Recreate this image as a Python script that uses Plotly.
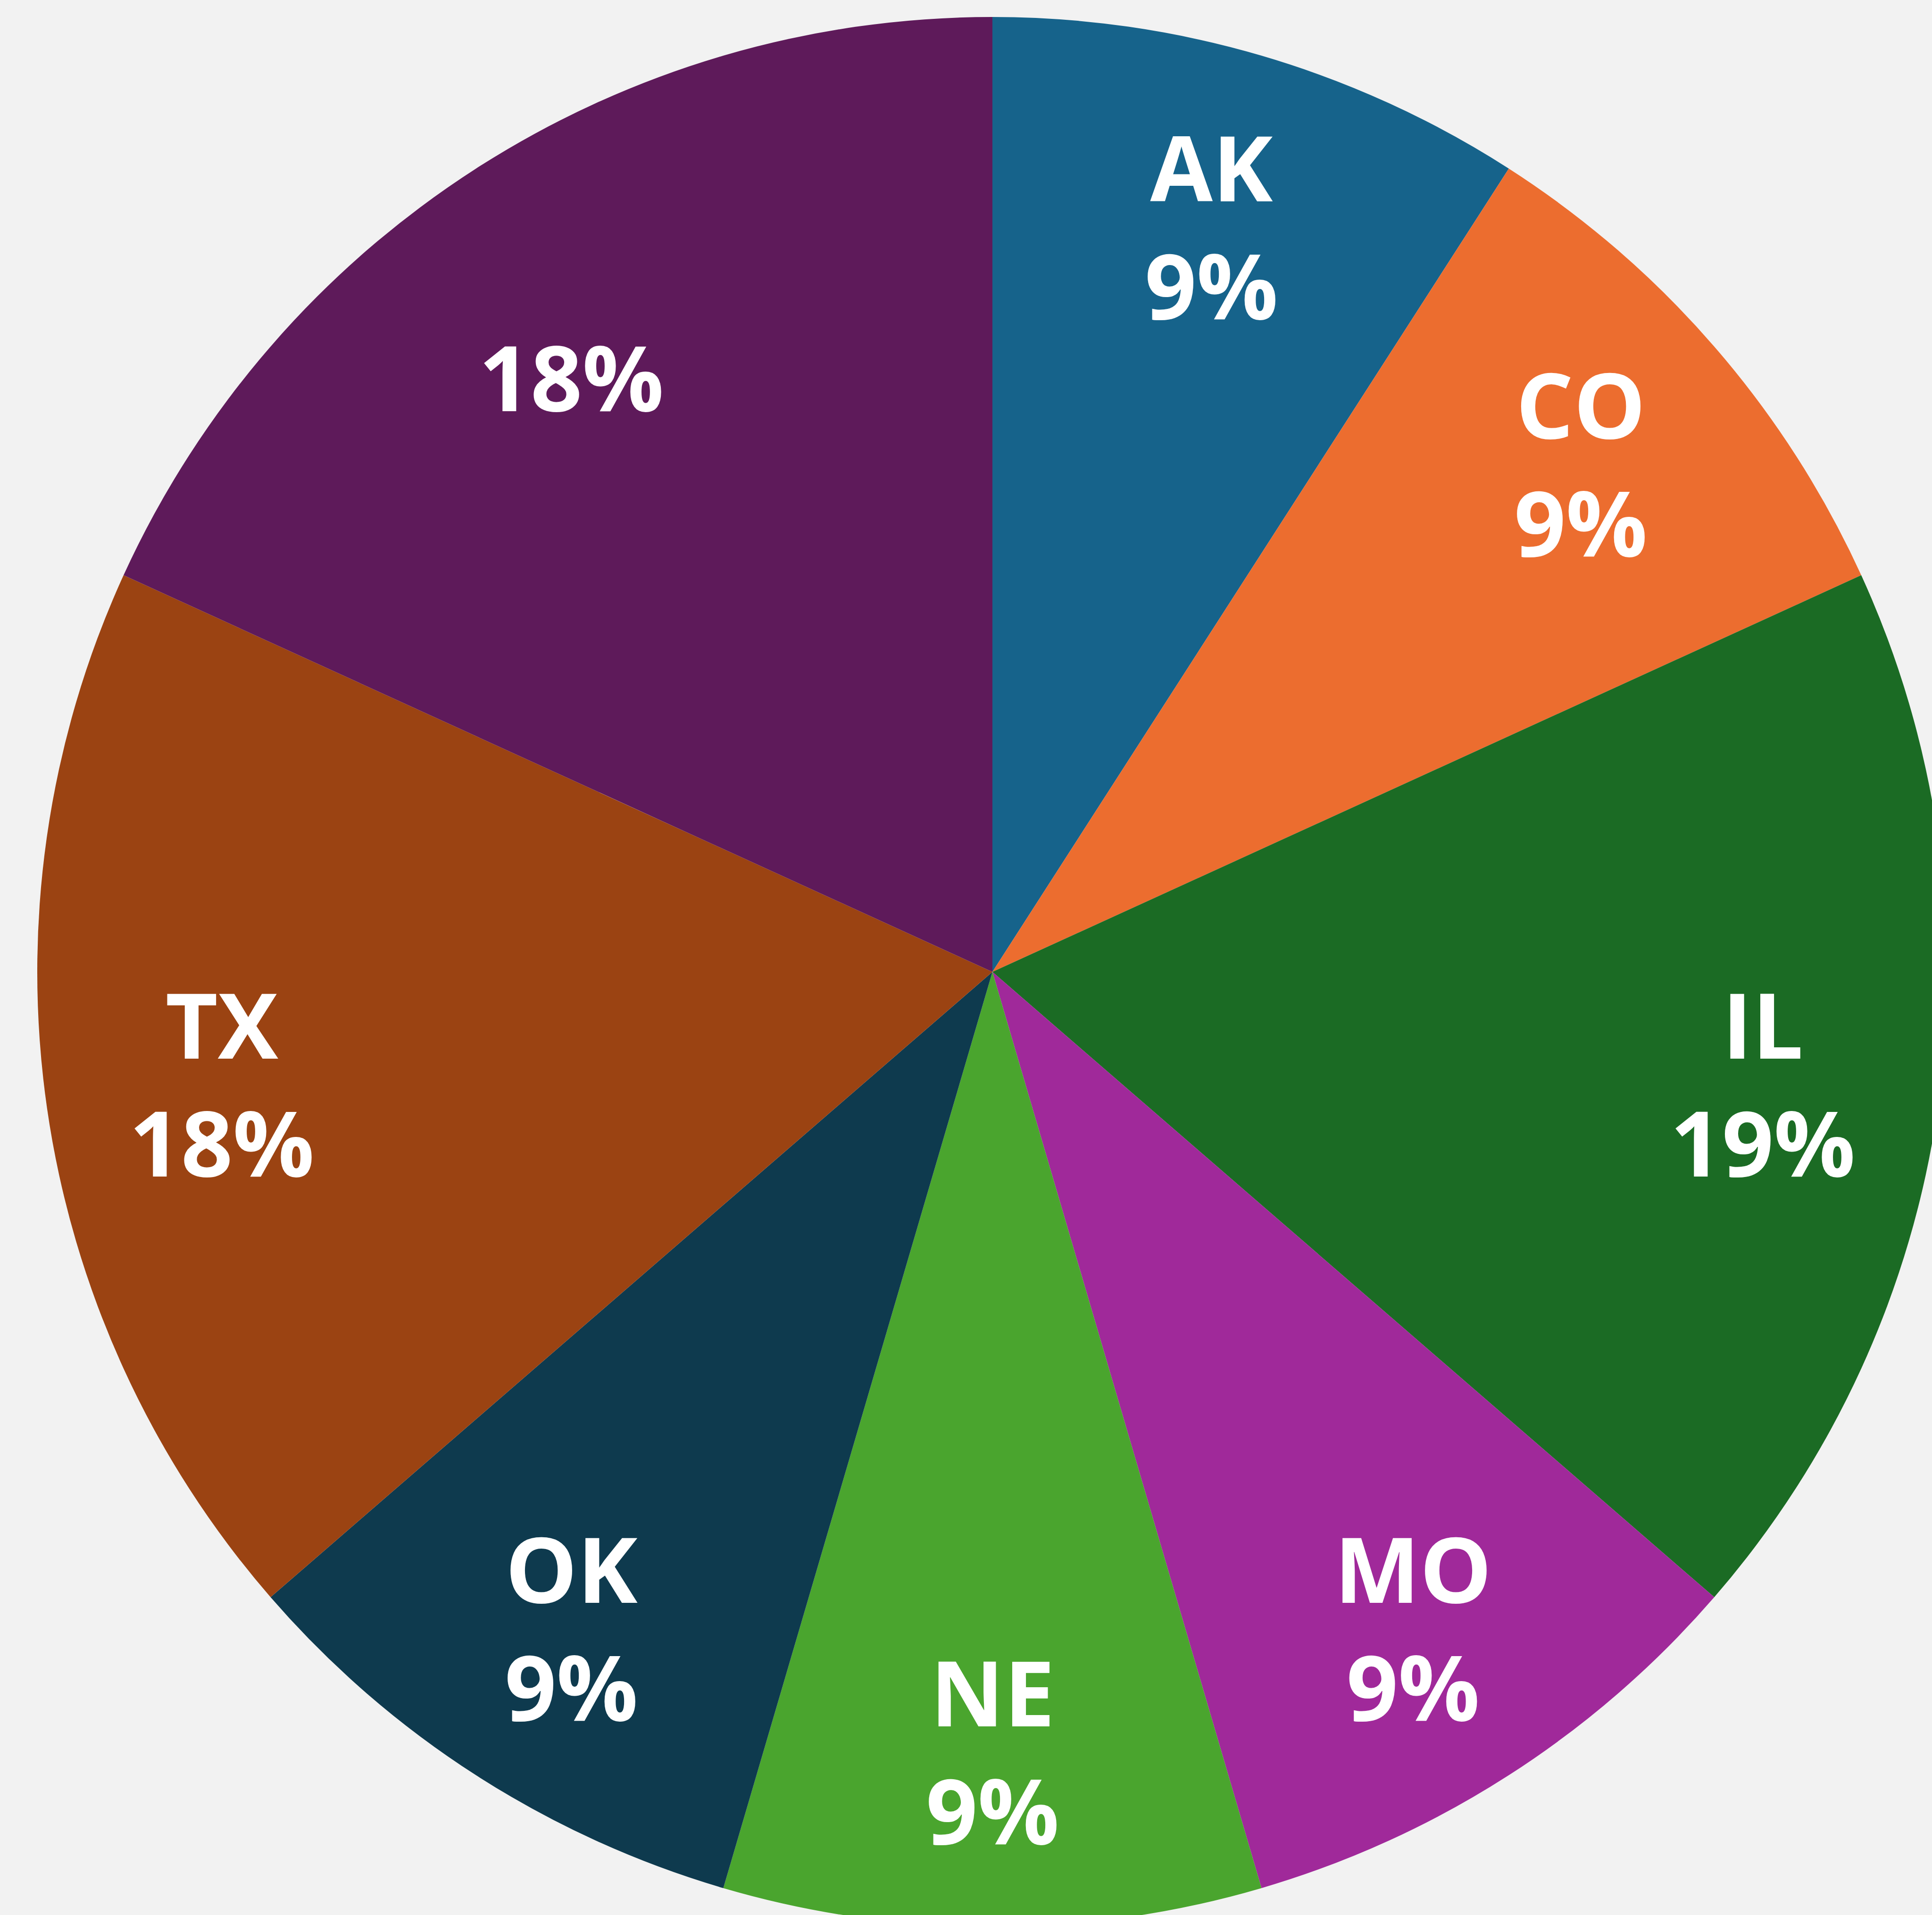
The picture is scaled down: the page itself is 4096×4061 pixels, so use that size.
import math
import plotly.graph_objects as go

# Data
states = ["AK", "CO", "IL", "MO", "NE", "OK", "TX", "Other"]
label_text = ["AK", "CO", "IL", "MO", "NE", "OK", "TX", ""]
values = [1, 1, 2, 1, 1, 1, 2, 2]
pct_text = ["9%", "9%", "19%", "9%", "9%", "9%", "18%", "18%"]
colors = ["#16638b", "#ec6d2f", "#1b6b24", "#a0299a",
          "#4aa52e", "#0e3a4e", "#9b4312", "#5e1a5a"]

LABEL_RADIUS = 0.815   # fraction of the pie radius where the labels sit
FONT = dict(family="Open Sans", size=192, color="#ffffff", weight="bold")

fig = go.Figure(go.Pie(
    labels=states,
    values=values,
    textinfo="none",
    sort=False,
    direction="clockwise",
    rotation=0,
    marker=dict(colors=colors, line=dict(width=0)),
    hoverinfo="skip",
    showlegend=False,
    domain=dict(x=[0, 1], y=[0, 1]),
))

# Labels placed at the middle angle of each slice (clockwise from 12 o'clock)
total = sum(values)
cum = 0.0
for lab, pct, v in zip(label_text, pct_text, values):
    mid = (cum + v / 2) / total * 2 * math.pi
    cum += v
    x = 0.5 + 0.5 * LABEL_RADIUS * math.sin(mid)
    y = 0.5 + 0.5 * LABEL_RADIUS * math.cos(mid)
    txt = (lab + "<br>" + pct) if lab else ("<span style='opacity:0'>X</span><br>" + pct)
    fig.add_annotation(
        x=x, y=y, xref="paper", yref="paper",
        text=txt, showarrow=False,
        xanchor="center", yanchor="middle", align="center",
        font=FONT,
    )

fig.update_layout(
    width=4129,
    height=4086,
    margin=dict(l=79, t=36, r=0, b=0, pad=0),
    paper_bgcolor="#f2f2f2",
    plot_bgcolor="#f2f2f2",
    showlegend=False,
)

fig.write_html(
    "out.html",
    config=dict(displayModeBar=False),
    post_script="document.body.style.margin='0';document.body.style.overflow='hidden';",
)
